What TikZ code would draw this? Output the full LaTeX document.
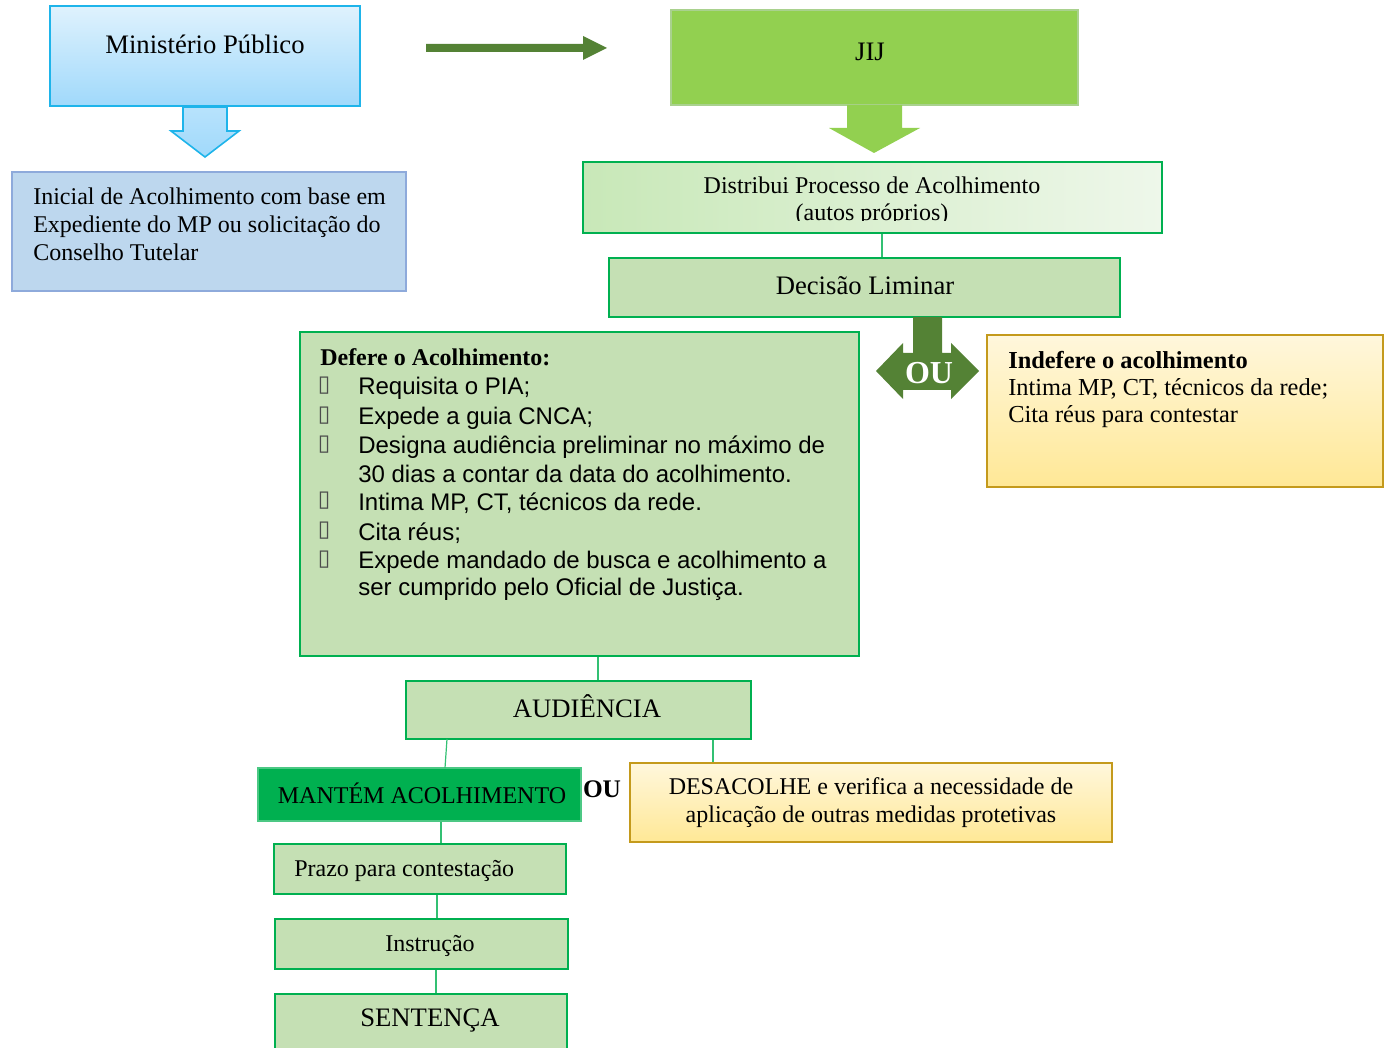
\documentclass[tikz,border=0pt]{standalone}
\usepackage{fontspec}
\setmainfont{Liberation Serif}
\newfontfamily\arialf{Liberation Sans}
\newfontfamily\dejavuf{DejaVu Sans}
\usetikzlibrary{fit}
\definecolor{mpTop}{HTML}{DFF2FD}
\definecolor{mpBot}{HTML}{A0D9FB}
\definecolor{mpLine}{HTML}{1EB4EA}
\definecolor{iniFill}{HTML}{BDD7EE}
\definecolor{iniLine}{HTML}{8EAADB}
\definecolor{dgreen}{HTML}{548235}
\definecolor{lgreen}{HTML}{92D050}
\definecolor{jijLine}{HTML}{A9D18E}
\definecolor{pgreen}{HTML}{C5E0B4}
\definecolor{bgreen}{HTML}{00B050}
\definecolor{yTop}{HTML}{FFF7DC}
\definecolor{yBot}{HTML}{FFE896}
\definecolor{yLine}{HTML}{C49A1C}
\definecolor{distL}{HTML}{C8E8B8}
\definecolor{distR}{HTML}{EEF7EA}
\newcommand{\bulletbox}{{\dejavuf\fontsize{17}{17}\selectfont\color{black!70}▯}}
\tikzset{
  box/.style={inner sep=0pt, line width=1.5pt},
  gbox/.style={box, fill=pgreen, draw=bgreen},
  ybox/.style={box, top color=yTop, bottom color=yBot, draw=yLine},
  txt/.style={inner sep=0pt, font=\fontsize{18}{21}\selectfont},
  big/.style={font=\fontsize{20}{24}\selectfont},
  conn/.style={draw=bgreen!80!white, line width=0.9pt},
}
\begin{document}
\begin{tikzpicture}[x=0.75pt, y=-0.75pt]
\useasboundingbox (0,0) rectangle (1388,1048);

% Ministerio Publico
\node[box, fit={(50,6)(360,106)}, top color=mpTop, bottom color=mpBot, draw=mpLine] (mp) {};
\node[txt, big] (mpT) at (205,44) {Ministério Público};
\filldraw[top color=mpBot!75!white, bottom color=mpBot, draw=mpLine, line width=1.2pt]
  (183,107) -- (227,107) -- (227,131) -- (239,131) -- (205,157) -- (171,131) -- (183,131) -- cycle;

% Inicial
\node[box, fit={(12,172)(406,291)}, fill=iniFill, draw=iniLine] (ini) {};
\node[txt, anchor=north west, align=left] (iniT) at (33,188) {Inicial de Acolhimento com base em\\Expediente do MP ou solicitação do\\Conselho Tutelar};

% green arrow MP -> JIJ
\fill[dgreen] (426,44) -- (583,44) -- (583,36) -- (607,48) -- (583,60) -- (583,52) -- (426,52) -- cycle;

% JIJ
\node[box, fit={(671,10)(1078,105)}, fill=lgreen, draw=jijLine] (jij) {};
\node[txt, big] (jijT) at (870,52) {JIJ};
\fill[lgreen] (847,105) -- (902,105) -- (902,128) -- (920,128) -- (874,153) -- (829,128) -- (847,128) -- cycle;

% Distribui
\node[box, fit={(583,162)(1162,233)}, left color=distL, right color=distR, draw=bgreen] (dist) {};
\begin{scope}
  \clip (583,162) rectangle (1162,221);
  \node[txt, align=center, font=\fontsize{18}{20.3}\selectfont] (distT) at (872,201) {Distribui Processo de Acolhimento\\(autos próprios)};
\end{scope}

% Decisao
\node[gbox, fit={(609,258)(1120,317)}] (dec) {};
\node[txt, big] (decT) at (865,286) {Decisão Liminar};
\draw[conn] (dist.south -| 882,0) -- (dec.north -| 882,0);

% OU double arrow
\fill[dgreen] (913,317) -- (942,317) -- (942,353) -- (951,353) -- (951,343) -- (979,371)
  -- (951,399) -- (951,390) -- (903,390) -- (903,399) -- (876,371) -- (903,343) -- (903,353) -- (913,353) -- cycle;
\node[txt, text=white, font=\fontsize{24}{26}\selectfont\bfseries] (ou1) at (929,373) {OU};

% Indefere
\node[ybox, fit={(987,335)(1383,487)}] (ind) {};
\node[txt, anchor=north west, align=left, font=\fontsize{18.3}{20.3}\selectfont] (indT) at (1008,351) {\textbf{Indefere o acolhimento}\\Intima MP, CT, técnicos da rede;\\Cita réus para contestar};

% Defere
\node[gbox, fit={(300,332)(859,656)}] (def) {};
\node[txt, anchor=west] (defH) at (320,357) {\textbf{Defere o Acolhimento:}};
\begin{scope}[every node/.style={inner sep=0pt}]
\foreach \y/\t in {388/{Requisita o PIA;}, 418/{Expede a guia CNCA;}, 447/{Designa audiência preliminar no máximo de}, 474/{30 dias a contar da data do acolhimento.}, 503/{Intima MP, CT, técnicos da rede.}, 533/{Cita réus;}, 562/{Expede mandado de busca e acolhimento a}, 589/{ser cumprido pelo Oficial de Justiça.}}{
  \node[anchor=west, font=\arialf\fontsize{18}{21}\selectfont] at (358,\y) {\t};
}
\foreach \y in {386,416,445,501,531,560}{
  \node[anchor=center] at (324,\y) {\bulletbox};
}
\end{scope}

% Audiencia
\node[gbox, fit={(406,681)(751,739)}] (aud) {};
\node[txt, big] (audT) at (587,706) {AUDIÊNCIA};
\draw[conn] (def.south -| 598,0) -- (aud.north -| 598,0);

% Mantem
\node[box, fit={(258,768)(581,821)}, fill=bgreen, draw=bgreen!70!white, line width=1pt] (man) {};
\node[txt] (manT) at (422,793) {MANTÉM ACOLHIMENTO};
\draw[conn] (447,739) -- (445,768);
\node[txt, font=\fontsize{19}{21}\selectfont\bfseries] (ou2) at (602,789) {OU};

% Desacolhe
\node[ybox, fit={(630,763)(1112,842)}] (des) {};
\node[txt, align=center] (desT) at (871,803) {DESACOLHE e verifica a necessidade de\\aplicação de outras medidas protetivas};
\draw[conn] (aud.south -| 713,0) -- (des.north -| 713,0);

% Prazo
\node[gbox, fit={(274,844)(566,894)}] (pra) {};
\node[txt, anchor=west] (praT) at (294,871) {Prazo para contestação};
\draw[conn] (man.south -| 441,0) -- (pra.north -| 441,0);

% Instrucao
\node[gbox, fit={(275,919)(568,969)}] (ins) {};
\node[txt] (insT) at (430,946) {Instrução};
\draw[conn] (pra.south -| 437,0) -- (ins.north -| 437,0);

% Sentenca
\node[gbox, fit={(275,994)(567,1060)}] (sen) {};
\node[txt, big] (senT) at (430,1021) {SENTENÇA};
\draw[conn] (ins.south -| 436,0) -- (sen.north -| 436,0);
\end{tikzpicture}
\end{document}
